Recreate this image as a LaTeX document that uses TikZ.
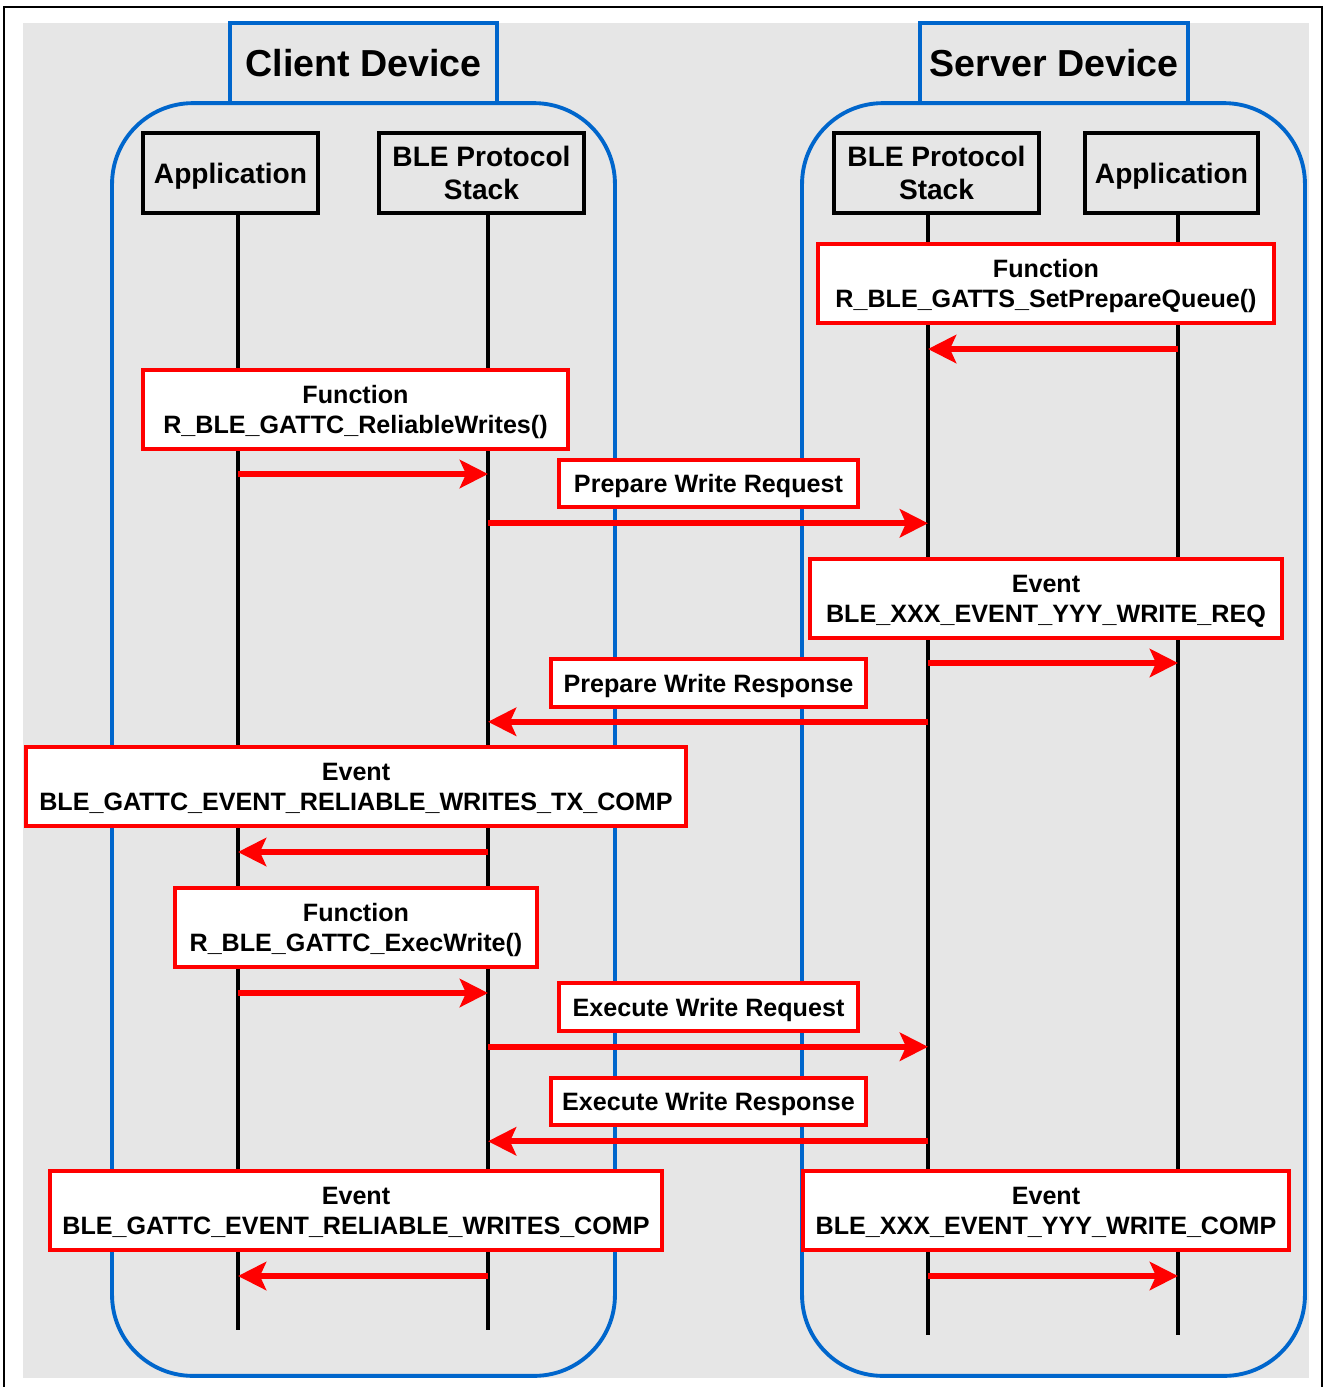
\documentclass[tikz,border=0pt]{standalone}
\usepackage{fontspec}
\setmainfont{Liberation Sans}
\usetikzlibrary{arrows.meta,positioning,calc}
\definecolor{clrDev}{RGB}{0,102,204}
\definecolor{clrMsg}{RGB}{255,0,0}
\definecolor{bgG}{RGB}{230,230,230}
\tikzset{
  device/.style={rectangle,draw=clrDev,line width=2.2pt,fill=bgG,
    font=\fontsize{21.4}{25}\selectfont\bfseries,minimum width=5.34cm,minimum height=1.6cm},
  devframe/.style={rectangle,rounded corners=46pt,draw=clrDev,line width=2.2pt,
    minimum width=10.06cm,minimum height=25.46cm},
  layer/.style={rectangle,draw=black,line width=2.3pt,fill=bgG,text depth=0pt,
    font=\fontsize{16}{18.5}\selectfont\bfseries,align=center,minimum height=1.6cm,inner sep=2pt},
  life/.style={line width=2.8pt,color=black},
  call/.style={rectangle,draw=clrMsg,line width=2.3pt,fill=white,text depth=0pt,
    font=\fontsize{14.3}{17}\selectfont\bfseries,align=center,minimum height=1.58cm,inner sep=2pt},
  packet/.style={call,minimum height=0.95cm},
  msg/.style={-{Stealth[length=16pt,width=16pt,inset=3.5pt]},line width=3.3pt,color=clrMsg}
}
\begin{document}
\begin{tikzpicture}[x=0.02cm,y=-0.02cm]
  \useasboundingbox (0,0) rectangle (1326,1387);
  \draw[line width=1pt] (4,7) rectangle (1322,1400);
  \fill[bgG] (23,23) rectangle (1309,1378);
  \node[devframe] (cliFrame) at (363.5,739.5) {};
  \node[devframe] (srvFrame) at (1053.5,739.5) {};
  \node[device] (cli) at (363.5,63) {Client Device};
  \node[device,minimum width=5.36cm] (srv) at (1054,63) {Server Device};
  \node[layer,minimum width=3.5cm] (appC) at (230.5,173) {Application};
  \node[layer,minimum width=4.1cm] (stkC) at (481.5,173) {BLE Protocol\\Stack};
  \node[layer,minimum width=4.1cm] (stkS) at (936.5,173) {BLE Protocol\\Stack};
  \node[layer,minimum width=3.46cm] (appS) at (1171.5,173) {Application};
  \coordinate (llCA) at (238,1330);
  \coordinate (llCS) at (488,1330);
  \coordinate (llSS) at (928,1335);
  \coordinate (llSA) at (1178,1335);
  \draw[life] (llCA |- appC.south) -- (llCA);
  \draw[life] (llCS |- stkC.south) -- (llCS);
  \draw[life] (llSS |- stkS.south) -- (llSS);
  \draw[life] (llSA |- appS.south) -- (llSA);
  \node[call,minimum width=9.12cm] (fnSPQ) at (1046,283.5) {Function\\R\_BLE\_GATTS\_SetPrepareQueue()};
  \node[call,minimum width=8.5cm] (fnRW) at (355.5,409.5) {Function\\R\_BLE\_GATTC\_ReliableWrites()};
  \node[packet,minimum width=5.98cm] (pwReq) at (708.5,483.5) {Prepare Write Request};
  \node[call,minimum width=9.44cm] (evWR) at (1046,598.5) {Event\\BLE\_XXX\_EVENT\_YYY\_WRITE\_REQ};
  \node[packet,minimum width=6.3cm] (pwRsp) at (708.5,683) {Prepare Write Response};
  \node[call,minimum width=13.2cm] (evTX) at (356,786.5) {Event\\BLE\_GATTC\_EVENT\_RELIABLE\_WRITES\_TX\_COMP};
  \node[call,minimum width=7.24cm] (fnEW) at (356,927.5) {Function\\R\_BLE\_GATTC\_ExecWrite()};
  \node[packet,minimum width=5.98cm] (ewReq) at (708.5,1007) {Execute Write Request};
  \node[packet,minimum width=6.3cm] (ewRsp) at (708.5,1101.5) {Execute Write Response};
  \node[call,minimum width=12.24cm] (evRC) at (356,1210.5) {Event\\BLE\_GATTC\_EVENT\_RELIABLE\_WRITES\_COMP};
  \node[call,minimum width=9.72cm] (evWC) at (1046,1210.5) {Event\\BLE\_XXX\_EVENT\_YYY\_WRITE\_COMP};
  \path (fnSPQ.south) ++(0,24) coordinate (m1);
  \path (fnRW.south) ++(0,23) coordinate (m2);
  \path (pwReq.south) ++(0,14) coordinate (m3);
  \path (evWR.south) ++(0,23) coordinate (m4);
  \path (pwRsp.south) ++(0,13) coordinate (m5);
  \path (evTX.south) ++(0,24) coordinate (m6);
  \path (fnEW.south) ++(0,24) coordinate (m7);
  \path (ewReq.south) ++(0,14) coordinate (m8);
  \path (ewRsp.south) ++(0,14) coordinate (m9);
  \path (evRC.south) ++(0,24) coordinate (m10);
  \draw[msg] (llSA |- m1) -- (llSS |- m1);
  \draw[msg] (llCA |- m2) -- (llCS |- m2);
  \draw[msg] (llCS |- m3) -- (llSS |- m3);
  \draw[msg] (llSS |- m4) -- (llSA |- m4);
  \draw[msg] (llSS |- m5) -- (llCS |- m5);
  \draw[msg] (llCS |- m6) -- (llCA |- m6);
  \draw[msg] (llCA |- m7) -- (llCS |- m7);
  \draw[msg] (llCS |- m8) -- (llSS |- m8);
  \draw[msg] (llSS |- m9) -- (llCS |- m9);
  \draw[msg] (llCS |- m10) -- (llCA |- m10);
  \draw[msg] (llSS |- m10) -- (llSA |- m10);
\end{tikzpicture}
\end{document}
